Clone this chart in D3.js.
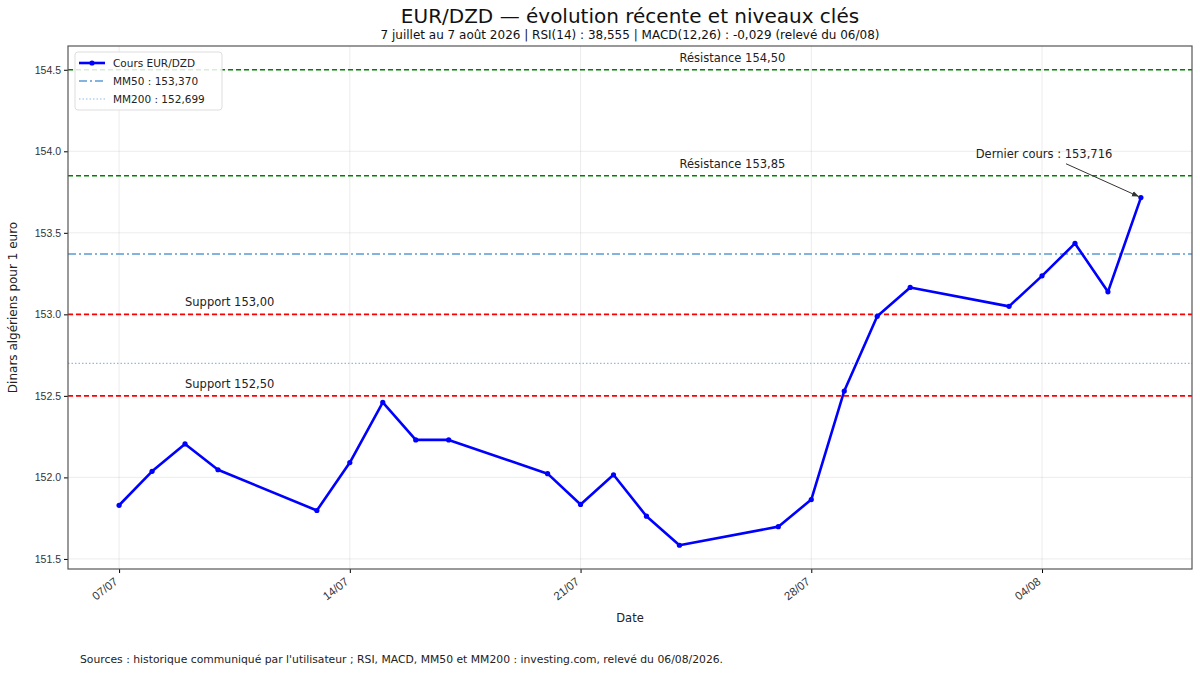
<!DOCTYPE html>
<html lang="fr">
  <head>
    <meta charset="UTF-8" />
    <title>EUR/DZD</title>
    <style>
      body { margin: 0; background: #fff; }
      svg { font-family: 'DejaVu Sans', sans-serif; }
    </style>
  </head>
  <body>
    <script src="https://d3js.org/d3.v7.min.js"></script>
    <script>
      const dates = ['2026-07-07', '2026-07-08', '2026-07-09', '2026-07-10',
        '2026-07-13', '2026-07-14', '2026-07-15', '2026-07-16', '2026-07-17',
        '2026-07-20', '2026-07-21', '2026-07-22', '2026-07-23', '2026-07-24',
        '2026-07-27', '2026-07-28', '2026-07-29', '2026-07-30', '2026-07-31',
        '2026-08-03', '2026-08-04', '2026-08-05', '2026-08-06', '2026-08-07']
      const cours = [151.829, 152.037, 152.205, 152.047, 151.797, 152.091, 152.46, 152.23,
        152.23, 152.023, 151.834, 152.016, 151.762, 151.584, 151.698, 151.864,
        152.53, 152.988, 153.165, 153.049, 153.236, 153.435, 153.138, 153.716]

      const resistances = [154.5, 153.85]
      const supports = [153.0, 152.5]
      const mm50 = 153.37
      const mm200 = 152.699
      const yTicks = [151.5, 152.0, 152.5, 153.0, 153.5, 154.0, 154.5]
      const xTicks = ['2026-07-07', '2026-07-14', '2026-07-21', '2026-07-28', '2026-08-04']

      const width = 1200
      const height = 675
      const margin = { top: 46, right: 8, bottom: 106, left: 68 }
      const fr = v => d3.format('.2f')(v).replace('.', ',')
      const fr3 = v => d3.format('.3f')(v).replace('.', ',')

      const parse = d3.utcParse('%Y-%m-%d')
      const data = dates.map((d, i) => ({ date: parse(d), value: cours[i] }))

      const svg = d3.select('body').append('svg')
        .attr('width', width).attr('height', height)

      // marges type matplotlib (5 %)
      const t0 = data[0].date, t1 = data[data.length - 1].date
      const pad = (t1 - t0) * 0.05
      const x = d3.scaleUtc()
        .domain([new Date(+t0 - pad), new Date(+t1 + pad)])
        .range([margin.left, width - margin.right])

      const yMin = d3.min(cours), yMax = d3.max(resistances)
      const yPad = (yMax - yMin) * 0.05
      const y = d3.scaleLinear()
        .domain([yMin - yPad, yMax + yPad])
        .range([height - margin.bottom, margin.top])

      const plotW = width - margin.right - margin.left
      const plotH = height - margin.bottom - margin.top

      // grille
      svg.append('g')
        .selectAll('line.gx').data(xTicks).join('line')
        .attr('x1', d => x(parse(d))).attr('x2', d => x(parse(d)))
        .attr('y1', margin.top).attr('y2', height - margin.bottom)
        .attr('stroke', '#b0b0b0').attr('stroke-opacity', 0.3).attr('stroke-width', 0.8)
      svg.append('g')
        .selectAll('line.gy').data(yTicks).join('line')
        .attr('x1', margin.left).attr('x2', width - margin.right)
        .attr('y1', d => y(d)).attr('y2', d => y(d))
        .attr('stroke', '#b0b0b0').attr('stroke-opacity', 0.3).attr('stroke-width', 0.8)

      // niveaux
      const levels = [
        ...resistances.map(v => ({ v, color: '#008000', dash: '5,3', label: 'Résistance ' + fr(v), at: '2026-07-24' })),
        ...supports.map(v => ({ v, color: '#ff0000', dash: '5,3', label: 'Support ' + fr(v), at: '2026-07-09' }))
      ]
      svg.append('g').selectAll('line').data(levels).join('line')
        .attr('x1', margin.left).attr('x2', width - margin.right)
        .attr('y1', d => y(d.v)).attr('y2', d => y(d.v))
        .attr('stroke', d => d.color).attr('stroke-width', 1.6)
        .attr('stroke-dasharray', d => d.dash)
      svg.append('g').selectAll('text').data(levels).join('text')
        .attr('x', d => x(parse(d.at)))
        .attr('y', d => y(d.v) - 8)
        .attr('font-size', 11.5).attr('fill', '#222')
        .text(d => d.label)

      svg.append('line')
        .attr('x1', margin.left).attr('x2', width - margin.right)
        .attr('y1', y(mm50)).attr('y2', y(mm50))
        .attr('stroke', '#5b9bd5').attr('stroke-width', 1.4)
        .attr('stroke-dasharray', '8,3,2,3')
      svg.append('line')
        .attr('x1', margin.left).attr('x2', width - margin.right)
        .attr('y1', y(mm200)).attr('y2', y(mm200))
        .attr('stroke', '#8fbbe3').attr('stroke-width', 1.2)
        .attr('stroke-dasharray', '1.5,2')

      // série
      const line = d3.line().x(d => x(d.date)).y(d => y(d.value))
      svg.append('path').datum(data)
        .attr('fill', 'none').attr('stroke', '#0000ff')
        .attr('stroke-width', 2.6).attr('stroke-linejoin', 'round')
        .attr('d', line)
      svg.append('g').selectAll('circle').data(data).join('circle')
        .attr('cx', d => x(d.date)).attr('cy', d => y(d.value))
        .attr('r', 2.6).attr('fill', '#0000ff')

      // annotation dernier cours
      const last = data[data.length - 1]
      svg.append('defs').append('marker')
        .attr('id', 'arr').attr('viewBox', '0 0 10 10')
        .attr('refX', 10).attr('refY', 5)
        .attr('markerWidth', 7).attr('markerHeight', 7)
        .attr('orient', 'auto')
        .append('path').attr('d', 'M0,1 L10,5 L0,9 Z').attr('fill', '#333')
      const ax = x(parse('2026-08-04')) + 2
      const ay = y(153.85) - 18
      svg.append('text')
        .attr('x', ax).attr('y', ay)
        .attr('text-anchor', 'middle').attr('font-size', 11.5).attr('fill', '#222')
        .text('Dernier cours : ' + fr3(last.value))
      svg.append('line')
        .attr('x1', ax + 22).attr('y1', ay + 6)
        .attr('x2', x(last.date) - 2).attr('y2', y(last.value) - 1)
        .attr('stroke', '#333').attr('stroke-width', 1)
        .attr('marker-end', 'url(#arr)')

      // axes
      const xAxis = svg.append('g')
        .attr('transform', `translate(0,${height - margin.bottom})`)
        .call(d3.axisBottom(x).tickValues(xTicks.map(parse))
          .tickFormat(d3.utcFormat('%d/%m')).tickSizeOuter(0).tickSize(4))
      xAxis.select('.domain').remove()
      xAxis.selectAll('text')
        .attr('font-size', 11.5).attr('fill', '#333')
        .attr('text-anchor', 'end')
        .attr('y', 0).attr('dy', 0)
        .attr('transform', 'translate(-1,14) rotate(-38)')

      const yAxis = svg.append('g')
        .attr('transform', `translate(${margin.left},0)`)
        .call(d3.axisLeft(y).tickValues(yTicks).tickFormat(d3.format('.1f')).tickSize(4))
      yAxis.select('.domain').remove()
      yAxis.selectAll('text').attr('font-size', 10.5).attr('fill', '#333')

      svg.append('rect')
        .attr('x', margin.left).attr('y', margin.top)
        .attr('width', plotW).attr('height', plotH)
        .attr('fill', 'none').attr('stroke', '#555').attr('stroke-width', 1.2)

      // légende
      const lg = svg.append('g').attr('transform', 'translate(75,52)')
      lg.append('rect').attr('width', 147).attr('height', 58).attr('rx', 3)
        .attr('fill', '#fff').attr('fill-opacity', 0.85)
        .attr('stroke', '#ddd')
      const legendItems = [
        { label: 'Cours EUR/DZD', color: '#0000ff', w: 2.6, dash: null, dot: true },
        { label: 'MM50 : ' + fr3(mm50), color: '#5b9bd5', w: 1.4, dash: '8,3,2,3' },
        { label: 'MM200 : ' + fr3(mm200), color: '#8fbbe3', w: 1.2, dash: '1.5,2' }
      ]
      legendItems.forEach((it, i) => {
        const yy = 11 + i * 18
        lg.append('line').attr('x1', 4).attr('x2', 30).attr('y1', yy).attr('y2', yy)
          .attr('stroke', it.color).attr('stroke-width', it.w)
          .attr('stroke-dasharray', it.dash)
        if (it.dot) lg.append('circle').attr('cx', 17).attr('cy', yy).attr('r', 2.6).attr('fill', it.color)
        lg.append('text').attr('x', 38).attr('y', yy + 4)
          .attr('font-size', 10.5).attr('fill', '#222').text(it.label)
      })

      // titres
      svg.append('text')
        .attr('x', margin.left + plotW / 2).attr('y', 23)
        .attr('text-anchor', 'middle').attr('font-size', 20).attr('fill', '#111')
        .text('EUR/DZD — évolution récente et niveaux clés')
      svg.append('text')
        .attr('x', margin.left + plotW / 2).attr('y', 39)
        .attr('text-anchor', 'middle').attr('font-size', 12).attr('fill', '#111')
        .text('7 juillet au 7 août 2026 | RSI(14) : 38,555 | MACD(12,26) : -0,029 (relevé du 06/08)')
      svg.append('text')
        .attr('x', margin.left + plotW / 2).attr('y', 622)
        .attr('text-anchor', 'middle').attr('font-size', 11.5).attr('fill', '#222')
        .text('Date')
      svg.append('text')
        .attr('transform', `translate(17,${margin.top + plotH / 2}) rotate(-90)`)
        .attr('text-anchor', 'middle').attr('font-size', 12).attr('fill', '#222')
        .text('Dinars algériens pour 1 euro')
      svg.append('text')
        .attr('x', 80).attr('y', 663)
        .attr('font-size', 10.8).attr('fill', '#222')
        .text("Sources : historique communiqué par l'utilisateur ; RSI, MACD, MM50 et MM200 : investing.com, relevé du 06/08/2026.")
    </script>
  </body>
</html>
